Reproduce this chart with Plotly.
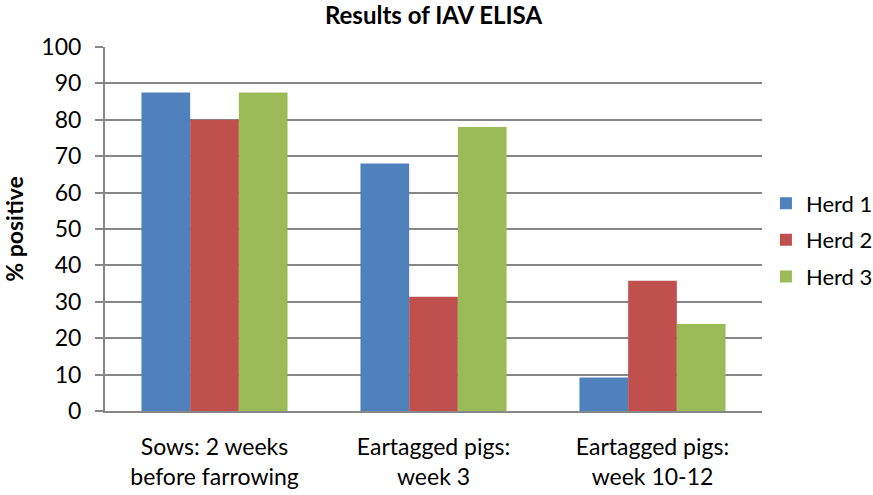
import plotly.graph_objects as go

categories = ["Sows: 2 weeks<br>before farrowing", "Eartagged pigs:<br>week 3", "Eartagged pigs:<br>week 10-12"]
herd1 = [87.5, 68.0, 9.2]
herd2 = [80.0, 31.4, 35.8]
herd3 = [87.5, 78.0, 23.9]
series_names = ["Herd 1", "Herd 2", "Herd 3"]
colors = ["#4F81BD", "#C0504D", "#9BBB59"]
y_ticks = list(range(0, 101, 10))

FONT = "Lato"
W, H = 873, 495
fig = go.Figure()
for name, vals, col in zip(series_names, [herd1, herd2, herd3], colors):
    fig.add_trace(go.Bar(x=categories, y=vals, name=name, marker_color=col,
                         marker_line_width=0, legendgroup=name))

fig.update_layout(
    width=W, height=H,
    margin=dict(l=105, r=111, t=47, b=84, autoexpand=False),
    paper_bgcolor="white", plot_bgcolor="white",
    barmode="group", bargap=0.333, bargroupgap=0,
    font=dict(family=FONT, size=23, color="black"),
    title=dict(text="<b>Results of IAV ELISA</b>", x=0.5, xref="paper", xanchor="center",
               y=1 - 16 / H, yref="container", yanchor="middle",
               font=dict(family=FONT, size=24, color="black")),
    legend=dict(x=1.006, xanchor="left", y=0.47, yanchor="middle",
                font=dict(family=FONT, size=22), tracegroupgap=5,
                bgcolor="rgba(0,0,0,0)"),
    showlegend=True,
)
fig.update_yaxes(range=[0, 100], tickvals=y_ticks, showgrid=True, gridcolor="#878787",
                 gridwidth=2, showline=True, linecolor="#878787", linewidth=2,
                 ticks="outside", ticklen=8, tickcolor="#878787", tickwidth=2,
                 zeroline=False, automargin=False, ticklabelstandoff=9,
                 title=dict(text="<b>% positive</b>", standoff=16,
                            font=dict(family=FONT, size=23)))
fig.update_xaxes(showline=True, linecolor="#878787", linewidth=2, ticks="",
                 showgrid=False, automargin=False, ticklabelstandoff=14)

fig.write_html("out.html", config={"displayModeBar": False},
               post_script="document.body.style.margin='0px';")
